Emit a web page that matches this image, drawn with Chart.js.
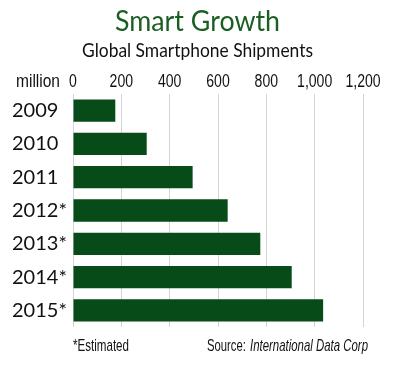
<!DOCTYPE html>
<html>
<head>
<meta charset="utf-8">
<script src="https://cdn.jsdelivr.net/npm/chart.js@4/dist/chart.umd.min.js"></script>
<style>
  html, body { margin: 0; padding: 0; background: #ffffff; }
  #wrap { position: relative; width: 400px; height: 367px; }
</style>
</head>
<body>
<div id="wrap"><canvas id="c" width="400" height="367"></canvas></div>
<script>
// ---- data ----
const years = ['2009', '2010', '2011', '2012*', '2013*', '2014*', '2015*'];
const shipments = [175, 305, 495, 640, 775, 905, 1035];
const titleText = 'Smart Growth';
const subtitleText = 'Global Smartphone Shipments';
const unitText = 'million';
const noteText = '*Estimated';
const sourceLabel = 'Source: ';
const sourceName = 'International Data Corp';

const NARROW = '"Liberation Sans Narrow", "Arial Narrow", "Liberation Sans", sans-serif';
const GEO = 'Lato, "Noto Sans", sans-serif';
const SQUEEZE = 0.78;

const textPlugin = {
  id: 'texts',
  afterDraw(chart) {
    const ctx = chart.ctx;
    ctx.save();
    ctx.textBaseline = 'alphabetic';
    ctx.fillStyle = '#1b5e24';
    ctx.font = '29px ' + GEO;
    ctx.textAlign = 'center';
    ctx.fillText(titleText, 197.5, 31, 165);
    ctx.fillStyle = '#111111';
    ctx.font = '19px ' + GEO;
    ctx.fillText(subtitleText, 197.5, 57, 231);
    // x tick labels (condensed) from the library's scale
    const xs = chart.scales.x;
    ctx.font = '18px ' + NARROW;
    xs.ticks.forEach(t => {
      const lbl = xs.getLabelForValue ? String(t.label) : String(t.value);
      const px = xs.getPixelForValue(t.value);
      const w = ctx.measureText(lbl).width;
      ctx.fillText(lbl, px, 87, w * SQUEEZE);
    });
    ctx.textAlign = 'left';
    ctx.font = '18px ' + NARROW;
    ctx.fillText(unitText, 16, 87, 44);
    ctx.font = '17px ' + NARROW;
    ctx.fillText(noteText, 73, 351, 56);
    const w1 = 42;
    ctx.fillText(sourceLabel, 207, 351, w1);
    ctx.font = 'italic 17px ' + NARROW;
    ctx.fillText(sourceName, 207 + w1 + 1, 351, 368 - 207 - w1 - 1);
    ctx.restore();
  }
};

new Chart(document.getElementById('c'), {
  type: 'bar',
  data: {
    labels: years,
    datasets: [{
      data: shipments,
      backgroundColor: '#064b18',
      borderWidth: 0,
      barPercentage: 0.67,
      categoryPercentage: 1.0
    }]
  },
  options: {
    indexAxis: 'y',
    responsive: false,
    animation: false,
    devicePixelRatio: 1,
    layout: { padding: { left: 12, right: 37, top: 0, bottom: 40 } },
    plugins: { legend: { display: false }, tooltip: { enabled: false } },
    scales: {
      x: {
        position: 'top',
        min: 0, max: 1200,
        afterFit(scale) { scale.height = 94; },
        ticks: {
          stepSize: 200,
          display: false,
          maxRotation: 0,
          minRotation: 0,
          autoSkip: false
        },
        grid: { color: '#d4d4d4', lineWidth: 1, drawTicks: false },
        border: { display: false }
      },
      y: {
        afterFit(scale) { scale.width = 61; },
        ticks: {
          crossAlign: 'far',
          color: '#111111',
          font: { family: GEO, size: 20 }
        },
        grid: { display: false },
        border: { display: false }
      }
    }
  },
  plugins: [textPlugin]
});
</script>
</body>
</html>
